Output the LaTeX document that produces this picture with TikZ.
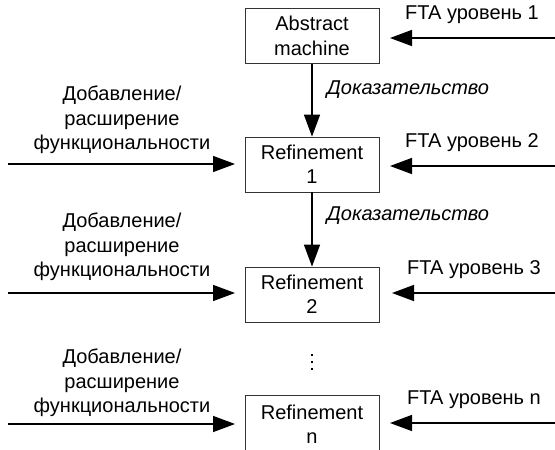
\documentclass[tikz,border=0pt]{standalone}
\usepackage{fontspec}
\setmainfont{Liberation Sans}
\usetikzlibrary{arrows.meta}
\begin{document}
\begin{tikzpicture}[x=1pt,y=-1pt,
  every node/.style={font=\fontsize{20}{24.5}\selectfont, inner sep=0pt},
  stage/.style={draw=black!80, line width=0.8pt, minimum width=134pt, minimum height=55pt, align=center},
  feed/.style={line width=1.5pt, -{Triangle[length=22pt,width=16pt]}},
  note/.style={align=center},
  proof/.style={font=\fontsize{20}{24}\selectfont\itshape}]
\useasboundingbox (0,0) rectangle (555,450);

% refinement chain
\node[stage] (am) at (312,36) {Abstract\\machine};
\node[stage] (r1) at (312,164.5) {Refinement\\1};
\node[stage] (r2) at (312,294.5) {Refinement\\2};
\node[stage, minimum height=58pt] (rn) at (312,424) {Refinement\\n};

% proof steps
\draw[feed] (am.south) -- (r1.north);
\draw[feed] (r1.south) -- (r2.north);
\node[proof] (p1) at (408,90) {Доказательство};
\node[proof] (p2) at (408,216) {Доказательство};

% ellipsis between the last two stages
\node (dots) at (312,362) {};
\foreach \dy in {-7,0,7}
  \fill ([yshift=-\dy pt]dots.center) +(-1.2,-1.2) rectangle +(1.2,1.2);

% FTA inputs from the right
\coordinate (f1) at (555,38);   \coordinate (f1e) at (390,38);
\coordinate (f2) at (555,166);  \coordinate (f2e) at (390,166);
\coordinate (f3) at (555,293);  \coordinate (f3e) at (392,293);
\coordinate (fn) at (555,423);  \coordinate (fne) at (390,423);
\draw[feed] (f1) -- (f1e);
\draw[feed] (f2) -- (f2e);
\draw[feed] (f3) -- (f3e);
\draw[feed] (fn) -- (fne);
\node (t1) at (472,15) {FTA уровень 1};
\node (t2) at (472,143) {FTA уровень 2};
\node (t3) at (474,270) {FTA уровень 3};
\node (tn) at (474,400) {FTA уровень n};

% functionality inputs from the left
\coordinate (a1) at (8,164);  \coordinate (a1e) at (235,164);
\coordinate (a2) at (8,293);  \coordinate (a2e) at (235,293);
\coordinate (a3) at (8,424);  \coordinate (a3e) at (235,424);
\draw[feed] (a1) -- (a1e);
\draw[feed] (a2) -- (a2e);
\draw[feed] (a3) -- (a3e);
\node[note] (n1) at (122,120) {Добавление/\\расширение\\функциональности};
\node[note] (n2) at (122,247) {Добавление/\\расширение\\функциональности};
\node[note] (n3) at (122,383) {Добавление/\\расширение\\функциональности};
\end{tikzpicture}
\end{document}
